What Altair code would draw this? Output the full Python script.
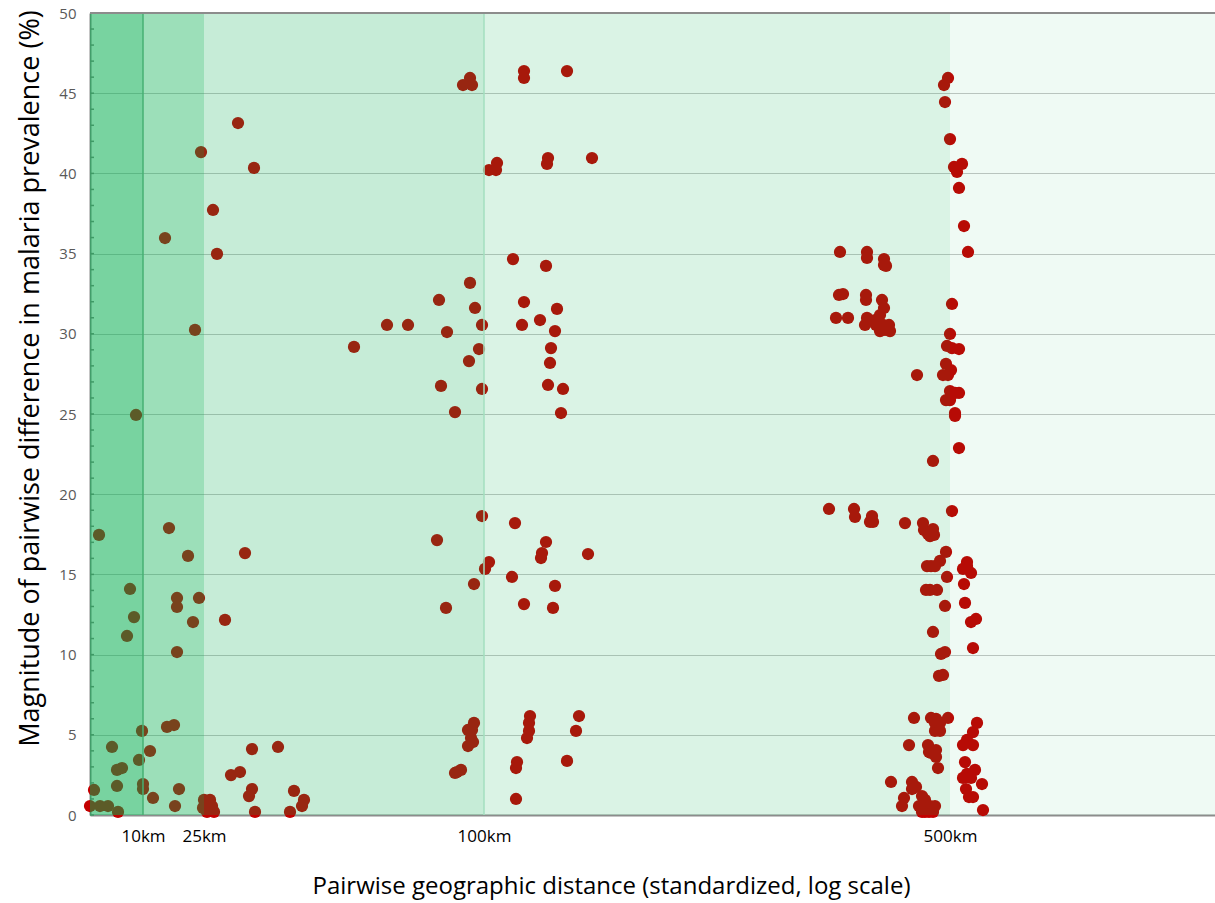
import altair as alt
import pandas as pd

# Standardized (log-based) distance position and magnitude of pairwise difference (%)
dist_band0 = [0, 4, 9, 10, 18, 22, 27, 32, 27, 28, 37, 40, 44, 46, 49, 52, 53, 53]
diff_band0 = [0.56, 1.56, 17.46, 0.56, 0.56, 4.24, 2.81, 2.93, 1.81, 0.19, 11.16, 14.09, 12.34, 24.94, 3.43, 5.24, 1.93, 1.62]

dist_band1 = [60, 63, 75, 77, 84, 79, 85, 87, 87, 87, 89, 98, 103, 105, 109, 111,
              114, 120, 113, 122, 117, 124, 118]
diff_band1 = [3.99, 1.06, 35.97, 5.49, 5.61, 17.89, 0.56, 13.53, 12.97, 10.16, 1.62, 16.15, 12.03, 30.24, 13.53, 41.33,
              0.94, 0.94, 0.44, 0.56, 0.19, 0.19, 0.56]

dist_band2 = [123, 127, 135, 141, 150, 148, 155, 159, 162, 162, 165, 164, 188, 200, 204, 212, 214,
              264, 297, 318, 349, 351, 357, 356, 347, 365, 367, 371, 365, 378, 381, 382, 378, 384, 383,
              379, 380, 380, 373, 382, 384, 385, 389, 392, 392, 392]
diff_band2 = [37.72, 34.98, 12.16, 2.49, 2.68, 43.14, 16.33, 1.18, 1.62, 4.11, 0.19, 40.34, 4.24, 0.19, 1.50, 0.56, 0.94,
              29.18, 30.55, 30.55, 32.11, 26.75, 30.11, 12.91, 17.14, 25.12, 2.68, 2.81, 2.62, 4.30, 4.80, 5.30, 5.30, 5.74, 4.55,
              28.30, 33.17, 45.95, 45.51, 45.51, 14.40, 31.61, 29.05, 30.55, 26.56, 18.64]

dist_band3 = [395, 399, 399, 407, 406, 423, 422, 425, 426, 426, 427, 434, 434, 434, 432, 434, 437, 439, 439, 440,
              450, 451, 452, 456, 456, 458, 457, 458, 461, 460, 465, 463, 465, 467, 471, 473, 477, 477, 486, 489,
              498, 502,
              750, 749, 753, 746, 758, 777, 777, 776, 776, 777, 775, 794, 794, 796, 792, 794, 790, 785, 786, 790,
              795, 799, 800, 793, 827,
              739, 764, 765, 782, 783, 780, 815,
              833, 834, 838, 843, 840, 844, 856, 850, 837, 841, 845, 840, 847, 836, 855, 843, 855, 851, 853, 849, 857,
              824, 841, 850, 845, 845, 850, 846, 819, 838, 839, 846, 846, 848, 841, 801, 822, 822, 826, 814, 812,
              832, 835, 829, 835, 840, 845, 839, 843, 832, 858, 843]
diff_band3 = [15.34, 15.77, 40.21, 40.65, 40.21, 34.66, 14.84, 18.20, 1.0, 2.93, 3.30, 46.38, 45.95, 31.98, 30.55, 13.15, 4.80, 5.24, 5.74, 6.17,
              30.86, 16.02, 16.33, 17.02, 34.23, 26.81, 40.59, 40.96, 29.11, 28.18, 30.17, 12.91, 14.28, 31.55, 25.06, 26.56, 46.38, 3.37, 5.24, 6.17,
              16.27, 40.96,
              35.10, 32.42, 32.48, 30.99, 30.99, 35.10, 34.73, 32.42, 32.11, 30.99, 30.55, 34.66, 34.29, 34.23, 32.11, 31.61, 31.17, 30.86, 30.55, 30.17,
              30.24, 30.55, 30.17, 30.55, 27.43,
              19.08, 19.08, 18.58, 18.64, 18.27, 18.27, 18.20,
              18.20, 17.77, 17.52, 17.83, 17.39, 17.46, 16.40, 15.84, 15.52, 15.52, 15.52, 14.03, 14.03, 14.03, 13.03, 11.41, 10.16, 10.04, 8.73, 8.67, 14.84,
              6.05, 6.05, 5.74, 5.74, 5.24, 5.24, 5.99, 4.36, 4.36, 3.93, 4.05, 3.62, 2.93, 3.87, 2.06, 2.06, 1.62, 1.75, 1.06, 0.56,
              1.18, 0.94, 0.56, 0.19, 0.56, 0.56, 0.19, 0.19, 0.19, 6.05, 22.07]

dist_band4 = [858, 854, 855, 860, 864, 867, 872, 869, 874, 878, 862, 860, 857, 862, 869, 856, 861, 858, 853, 865,
              869, 860, 856, 860, 865, 865, 869, 862, 877, 873, 881, 877, 874, 875, 886, 881, 883, 887, 883, 877,
              873, 883, 875, 877, 885, 881, 873, 876, 879, 883, 892, 893]
diff_band4 = [45.95, 45.51, 44.45, 42.14, 40.40, 40.09, 40.59, 39.09, 36.72, 35.10, 31.86, 29.99, 29.24, 29.11, 29.05, 28.12, 27.74, 27.43, 27.43, 26.31,
              26.31, 26.43, 25.87, 25.87, 25.06, 24.88, 22.88, 18.95, 15.77, 15.34, 15.09, 15.52, 14.40, 13.22, 12.22, 12.03, 10.41, 5.74, 5.17, 4.68,
              4.36, 4.36, 3.30, 2.56, 2.81, 2.31, 2.31, 1.62, 1.12, 1.12, 1.93, 0.31]

# Distance axis: tick positions (standardized) and labels
tick_positions = [53, 114, 394, 860]
tick_labels = ["10km", "25km", "100km", "500km"]
x_max = 1125

# Distance bands (shaded overlays)
band_starts = [0, 53, 114, 394, 860]
band_ends = [53, 114, 394, 860, 1125]
band_alpha = [0.53, 0.39, 0.225, 0.145, 0.063]

# Band divider lines
divider_pos = [53, 394]
divider_color = ["#46b173", "#a3dfbf"]

minor_ticks = list(range(0, 51))

dist = dist_band0 + dist_band1 + dist_band2 + dist_band3 + dist_band4
diff = diff_band0 + diff_band1 + diff_band2 + diff_band3 + diff_band4
df = pd.DataFrame({"dist": dist, "diff": diff})

bands_df = pd.DataFrame({"dist": band_starts, "dist2": band_ends, "alpha": band_alpha,
                         "diff": [0] * 5, "diff2": [50] * 5})
div_df = pd.DataFrame({"dist": divider_pos, "c": divider_color})
minor_df = pd.DataFrame({"diff": minor_ticks})

label_expr = " : ".join(
    f"datum.value == {p} ? '{l}'" for p, l in zip(tick_positions, tick_labels)
) + " : ''"

FONT = "Open Sans"
X_TITLE = "Pairwise geographic distance (standardized, log scale)"
Y_TITLE = "Magnitude of pairwise difference in malaria prevalence (%)"

xscale = alt.Scale(domain=[0, x_max], nice=False, zero=False)
yscale = alt.Scale(domain=[0, 50], nice=False, zero=True)

xaxis = alt.Axis(values=tick_positions, labelExpr=label_expr, grid=False, ticks=False,
                 domainColor="#8c8c8c", domainWidth=2, labelColor="#000000",
                 labelFontSize=17, labelFont=FONT, labelPadding=13,
                 titleFont=FONT, titleFontSize=24, titleFontWeight="normal",
                 titleColor="#000000", titleX=521, titleY=71, titleBaseline="middle",
                 titleAlign="center", labelFlush=False)
yaxis = alt.Axis(values=list(range(0, 51, 5)), grid=True, gridColor="#c6c6c6",
                 gridWidth=1.2, ticks=False, domainColor="#8c8c8c", domainWidth=2,
                 labelColor="#595959", labelFontSize=15, labelFont=FONT, labelPadding=14,
                 titleFont=FONT, titleFontSize=27, titleFontWeight="normal",
                 titleColor="#000000", titleX=-60, titleY=365, titleAngle=-90,
                 titleAlign="center", titleBaseline="middle")

points = alt.Chart(df).mark_circle(size=150, opacity=1, color="#c40000").encode(
    x=alt.X("dist:Q", scale=xscale, axis=xaxis, title=X_TITLE),
    y=alt.Y("diff:Q", scale=yscale, axis=yaxis, title=Y_TITLE),
)

bands = alt.Chart(bands_df).mark_rect(color="#00ac4b").encode(
    x=alt.X("dist:Q", scale=xscale, axis=xaxis, title=X_TITLE),
    x2="dist2:Q",
    y=alt.Y("diff:Q", scale=yscale, axis=yaxis, title=Y_TITLE),
    y2="diff2:Q",
    opacity=alt.Opacity("alpha:Q", scale=None, legend=None),
)

dividers = alt.Chart(div_df).mark_rule(strokeWidth=1.5).encode(
    x=alt.X("dist:Q", scale=xscale, axis=xaxis, title=X_TITLE),
    color=alt.Color("c:N", scale=None, legend=None),
)

minor = alt.Chart(minor_df).mark_rule(color="#3f9a66", strokeWidth=1.5).encode(
    y=alt.Y("diff:Q", scale=yscale, axis=yaxis, title=Y_TITLE),
    x=alt.value(0),
    x2=alt.value(4),
)

top_border = alt.Chart(minor_df).mark_rule(color="#8c8c8c", strokeWidth=2).encode(
    y=alt.value(0), x=alt.value(0), x2=alt.value(x_max)
)

chart = alt.layer(points, bands, dividers, minor, top_border).properties(
    width=1125, height=802,
    padding={"left": 90, "top": 13, "right": 0, "bottom": 88},
    autosize=alt.AutoSizeParams(type="none"),
).configure_view(stroke=None)

chart.save("out.html", embed_options={"renderer": "svg", "actions": False})
